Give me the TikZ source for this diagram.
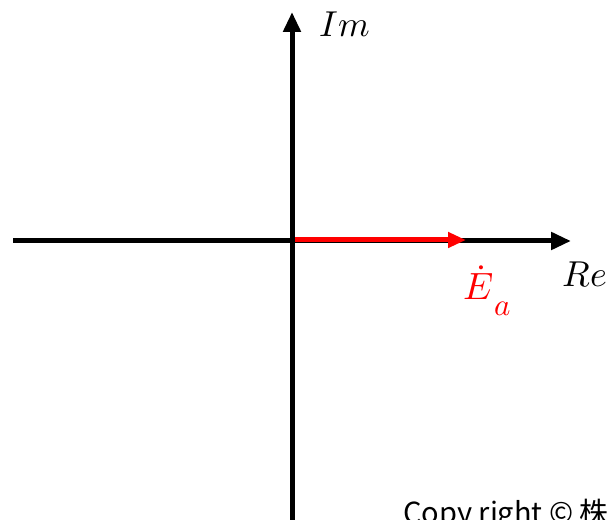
\documentclass[tikz,border=0pt]{standalone}
\usepackage{fontspec}
\usepackage{unicode-math}
\setmathfont{Latin Modern Math}
\newfontfamily\cjk{Noto Sans CJK JP}
\usetikzlibrary{arrows.meta}
\begin{document}
\begin{tikzpicture}[x=1pt,y=1pt,
  axis/.style={line width=5pt,-{Triangle[length=20pt,width=17pt]}},
  vec/.style={line width=5pt,red,-{Triangle[length=18pt,width=15pt]}},
  lbl/.style={font=\fontsize{36}{40}\selectfont,inner sep=0pt}]
\useasboundingbox (0,0) rectangle (615,519);
\clip (0,0) rectangle (615,519);
\coordinate (xs) at (13,278);
\coordinate (xe) at (571,278);
\coordinate (ys) at (292,-5);
\coordinate (ye) at (292,507);
\coordinate (o) at (295,279);
\coordinate (ea) at (466,279);
\draw[axis] (xs) -- (xe);
\draw[axis] (ys) -- (ye);
\draw[vec] (o) -- (ea);
\node[lbl,anchor=base west] (im) at (319,482) {$Im$};
\node[lbl,anchor=base west] (re) at (562,232) {$Re$};
\node[lbl,anchor=base west,text=red] (e) at (463,219) {{\fontsize{38}{40}\selectfont$\dot{E}$}\kern1pt\raisebox{-16pt}{\fontsize{31}{31}\selectfont$a$}};
\node[anchor=base west,inner sep=0pt,font=\cjk\fontsize{29}{34}\selectfont] (cr) at (403,-4) {Copy right © 株};
\end{tikzpicture}
\end{document}
